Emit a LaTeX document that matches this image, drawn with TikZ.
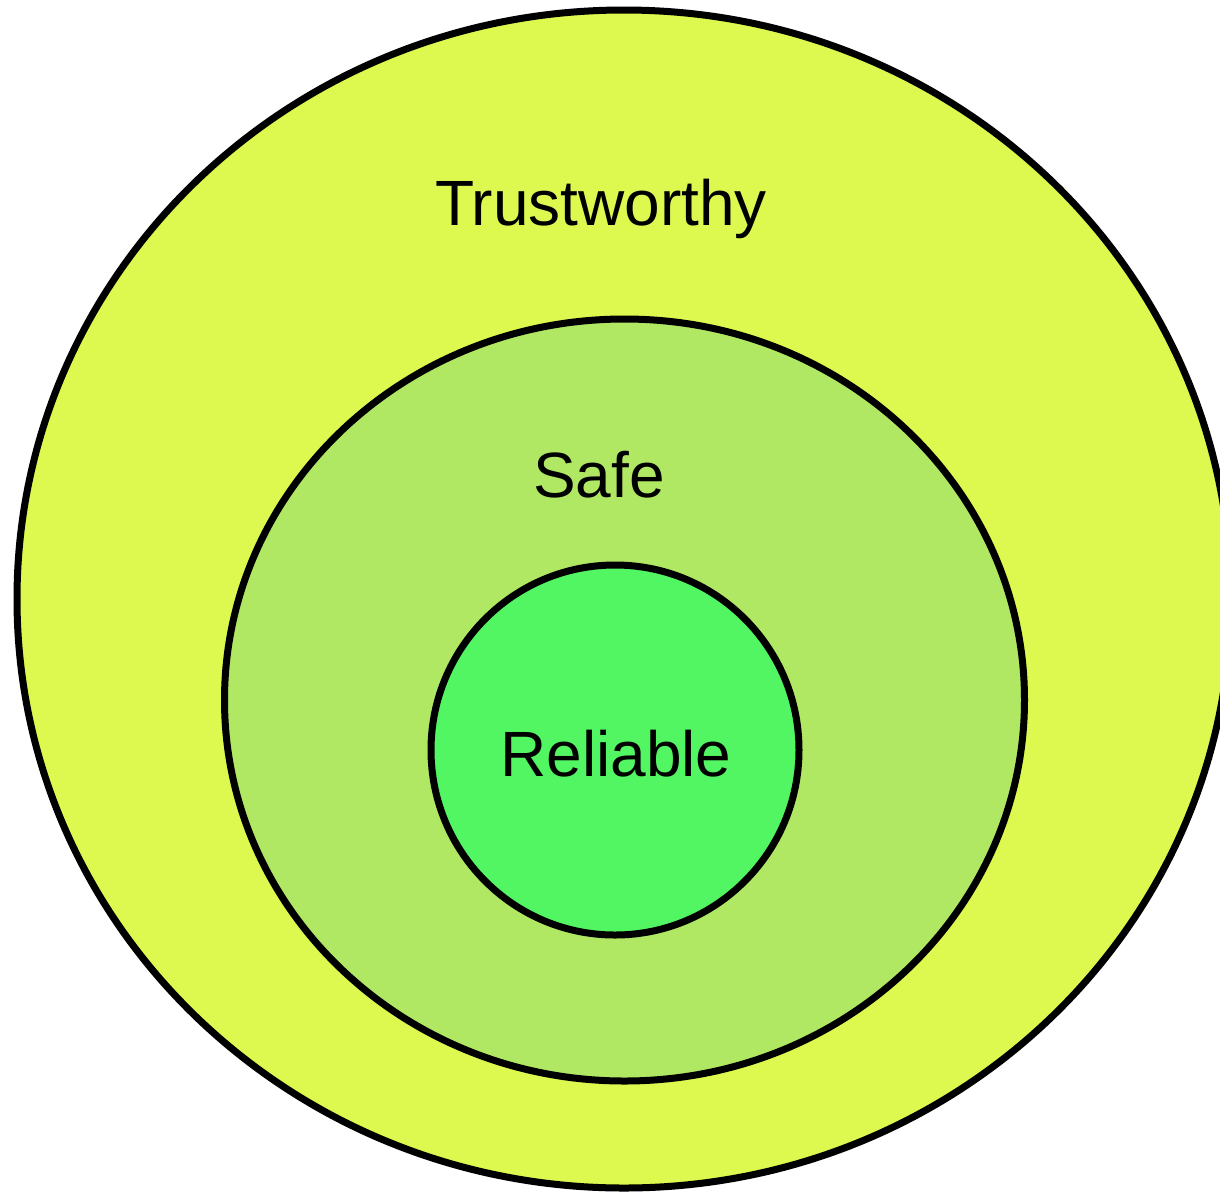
\documentclass[tikz,border=0pt]{standalone}
\usepackage{fontspec}
\setmainfont{Liberation Sans}
\begin{document}
\begin{tikzpicture}[x=1pt,y=-1pt,
  ring/.style={draw=black,line width=7pt},
  lbl/.style={font=\fontsize{64}{70}\selectfont,anchor=base,inner sep=0pt}]
\definecolor{outerc}{RGB}{221,249,79}
\definecolor{midc}{RGB}{176,232,100}
\definecolor{innerc}{RGB}{82,245,98}
\useasboundingbox (0,0) rectangle (1220,1192);
\begin{scope}
\clip (0,0) rectangle (1220,1192);
\path[ring,fill=outerc] (624,599) ellipse [x radius=607, y radius=589];
\path[ring,fill=midc] (624.5,700) ellipse [x radius=400, y radius=381];
\path[ring,fill=innerc] (615,750) ellipse [x radius=184, y radius=185];
\end{scope}
\node[lbl] (trust) at (601,225) {Trustworthy};
\node[lbl] (safe) at (599,497) {Safe};
\node[lbl] (rel) at (616,776) {Reliable};
\end{tikzpicture}
\end{document}
